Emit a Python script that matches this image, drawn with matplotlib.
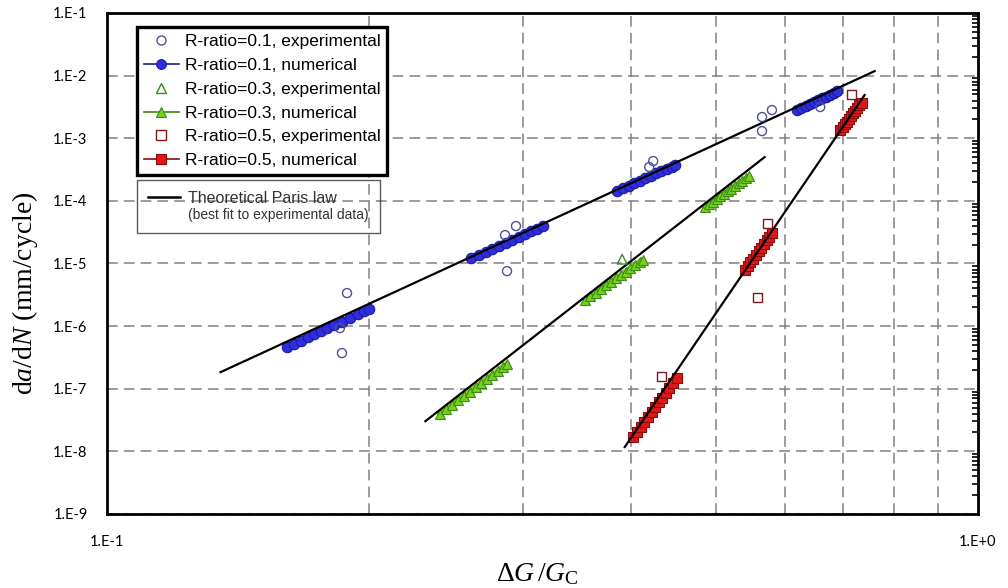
import numpy as np
import matplotlib
matplotlib.use("Agg")
import matplotlib.pyplot as plt
from matplotlib.lines import Line2D
from matplotlib.ticker import FixedLocator, FixedFormatter, NullFormatter

plt.rcParams['mathtext.fontset'] = 'custom'
plt.rcParams['mathtext.rm'] = 'Liberation Serif'
plt.rcParams['mathtext.it'] = 'Liberation Serif:italic'

# ---- data (dG/Gc, da/dN) ----
# R = 0.1 numerical, four blocks
r01_num_x = [
    [0.161, 0.164, 0.167, 0.170, 0.173, 0.176, 0.179, 0.182, 0.186, 0.190, 0.194, 0.197, 0.200],
    [0.262, 0.267, 0.272, 0.277, 0.282, 0.287, 0.292, 0.297, 0.302, 0.307, 0.312, 0.317],
    [0.385, 0.391, 0.397, 0.403, 0.409, 0.415, 0.421, 0.427, 0.433, 0.439, 0.445, 0.449],
    [0.620, 0.627, 0.634, 0.641, 0.648, 0.655, 0.662, 0.669, 0.676, 0.683, 0.689],
]
r01_num_y = [
    [4.62e-7, 5.21e-7, 5.86e-7, 6.58e-7, 7.37e-7, 8.25e-7, 9.20e-7, 1.025e-6, 1.18e-6, 1.356e-6, 1.55e-6, 1.72e-6, 1.89e-6],
    [1.22e-5, 1.37e-5, 1.54e-5, 1.72e-5, 1.92e-5, 2.15e-5, 2.39e-5, 2.65e-5, 2.94e-5, 3.26e-5, 3.60e-5, 3.97e-5],
    [1.44e-4, 1.585e-4, 1.742e-4, 1.91e-4, 2.095e-4, 2.293e-4, 2.506e-4, 2.736e-4, 2.983e-4, 3.25e-4, 3.53e-4, 3.74e-4],
    [2.82e-3, 3.03e-3, 3.26e-3, 3.50e-3, 3.76e-3, 4.03e-3, 4.32e-3, 4.62e-3, 4.95e-3, 5.29e-3, 5.60e-3],
]
r01_exp_x = [0.1886, 0.1851, 0.1861, 0.2864, 0.2948, 0.2879, 0.4193, 0.4237, 0.565, 0.580, 0.565, 0.659]
r01_exp_y = [3.37e-6, 9.29e-7, 3.71e-7, 2.84e-5, 3.96e-5, 7.56e-6, 3.47e-4, 4.32e-4, 2.18e-3, 2.82e-3, 1.30e-3, 3.15e-3]

# R = 0.3
r03_num_x = [
    [0.241, 0.245, 0.249, 0.253, 0.257, 0.261, 0.265, 0.269, 0.273, 0.277, 0.281, 0.285, 0.288],
    [0.354, 0.359, 0.364, 0.369, 0.374, 0.379, 0.384, 0.389, 0.394, 0.399, 0.404, 0.409, 0.412],
    [0.486, 0.491, 0.496, 0.501, 0.506, 0.511, 0.516, 0.521, 0.526, 0.531, 0.536, 0.541, 0.546],
]
r03_num_y = [
    [3.93e-8, 4.66e-8, 5.52e-8, 6.51e-8, 7.67e-8, 9.01e-8, 1.055e-7, 1.232e-7, 1.438e-7, 1.672e-7, 1.94e-7, 2.25e-7, 2.51e-7],
    [2.60e-6, 2.98e-6, 3.42e-6, 3.90e-6, 4.46e-6, 5.07e-6, 5.77e-6, 6.55e-6, 7.43e-6, 8.40e-6, 9.49e-6, 1.07e-5, 1.15e-5],
    [7.96e-5, 8.80e-5, 9.72e-5, 1.072e-4, 1.182e-4, 1.301e-4, 1.432e-4, 1.574e-4, 1.728e-4, 1.896e-4, 2.078e-4, 2.276e-4, 2.49e-4],
]
r03_exp_x = [0.3903]
r03_exp_y = [1.17e-5]

# R = 0.5
r05_num_x = [
    [0.402, 0.406, 0.410, 0.414, 0.418, 0.422, 0.426, 0.430, 0.434, 0.438, 0.442, 0.446, 0.451],
    [0.540, 0.544, 0.548, 0.552, 0.556, 0.560, 0.564, 0.568, 0.572, 0.576, 0.580],
    [0.695, 0.699, 0.703, 0.707, 0.711, 0.715, 0.719, 0.723, 0.727, 0.731, 0.735],
]
r05_num_y = [
    [1.69e-8, 2.04e-8, 2.46e-8, 2.96e-8, 3.55e-8, 4.25e-8, 5.09e-8, 6.07e-8, 7.24e-8, 8.62e-8, 1.025e-7, 1.217e-7, 1.50e-7],
    [7.85e-6, 9.03e-6, 1.038e-5, 1.192e-5, 1.367e-5, 1.567e-5, 1.793e-5, 2.05e-5, 2.344e-5, 2.676e-5, 3.05e-5],
    [1.35e-3, 1.497e-3, 1.659e-3, 1.837e-3, 2.033e-3, 2.25e-3, 2.487e-3, 2.749e-3, 3.035e-3, 3.35e-3, 3.70e-3],
]
r05_exp_x = [0.4337, 0.559, 0.574, 0.7166]
r05_exp_y = [1.59e-7, 2.90e-6, 4.42e-5, 5.08e-3]

# Paris law fits (end points)
paris01_x = [0.135, 0.761]
paris01_y = [1.84e-7, 1.18e-2]
paris03_x = [0.232, 0.569]
paris03_y = [3.03e-8, 5.0e-4]
paris05_x = [0.393, 0.741]
paris05_y = [1.17e-8, 4.9e-3]

y_ticks = [1e-9, 1e-8, 1e-7, 1e-6, 1e-5, 1e-4, 1e-3, 1e-2, 1e-1]
y_labels = ['1.E-9', '1.E-8', '1.E-7', '1.E-6', '1.E-5', '1.E-4', '1.E-3', '1.E-2', '1.E-1']
x_ticks = [0.1, 1.0]
x_labels = ['1.E-1', '1.E+0']

# ---- styles ----
blue_face, blue_edge = '#2e2ee0', '#1a1a9a'
green_face, green_edge = '#74d21c', '#3c8a14'
red_face, red_edge = '#e01818', '#8a0a0a'

fig = plt.figure(figsize=(10.08, 5.88), dpi=100)
ax = fig.add_axes([0.1062, 0.1259, 0.864, 0.852])
ax.set_xscale('log')
ax.set_yscale('log')
ax.set_xlim(0.1, 1.0)
ax.set_ylim(1e-9, 1e-1)

num_styles = [
    (r01_num_x, r01_num_y, 'o', blue_face, blue_edge, 'R-ratio=0.1, numerical'),
    (r03_num_x, r03_num_y, '^', green_face, green_edge, 'R-ratio=0.3, numerical'),
    (r05_num_x, r05_num_y, 's', red_face, red_edge, 'R-ratio=0.5, numerical'),
]
num_handles = []
for xs, ys, mk, fc, ec, lab in num_styles:
    for bx, by in zip(xs, ys):
        ax.plot(bx, by, marker=mk, ms=7.5, mfc=fc, mec=ec, mew=0.8,
                color=fc, lw=4, solid_capstyle='round', zorder=3)
    num_handles.append(Line2D([], [], marker=mk, ms=7, mfc=fc, mec=ec,
                              mew=0.8, color=ec, lw=1.2, label=lab))

for px, py in [(paris01_x, paris01_y), (paris03_x, paris03_y), (paris05_x, paris05_y)]:
    ax.plot(px, py, color='black', lw=1.6, zorder=4)

ax.scatter(r01_exp_x, r01_exp_y, s=42, marker='o', facecolors='none',
           edgecolors='#4f4f9e', linewidths=1.0, zorder=5)
ax.scatter(r03_exp_x, r03_exp_y, s=48, marker='^', facecolors='none',
           edgecolors='#3c8a2c', linewidths=1.0, zorder=5)
ax.scatter(r05_exp_x, r05_exp_y, s=42, marker='s', facecolors='none',
           edgecolors='#7a1a1a', linewidths=1.0, zorder=5)

exp_handles = [
    Line2D([], [], ls='none', marker='o', ms=6.5, mfc='none', mec='#4f4f9e', label='R-ratio=0.1, experimental'),
    Line2D([], [], ls='none', marker='^', ms=6.5, mfc='none', mec='#3c8a2c', label='R-ratio=0.3, experimental'),
    Line2D([], [], ls='none', marker='s', ms=6.5, mfc='none', mec='#7a1a1a', label='R-ratio=0.5, experimental'),
]
handles = [exp_handles[0], num_handles[0], exp_handles[1], num_handles[1],
           exp_handles[2], num_handles[2]]

# ---- axes cosmetics ----
ax.yaxis.set_major_locator(FixedLocator(y_ticks))
ax.yaxis.set_major_formatter(FixedFormatter(y_labels))
ax.yaxis.set_minor_formatter(NullFormatter())
ax.xaxis.set_major_locator(FixedLocator(x_ticks))
ax.xaxis.set_major_formatter(FixedFormatter(x_labels))
ax.xaxis.set_minor_locator(FixedLocator([0.2, 0.3, 0.4, 0.5, 0.6, 0.7, 0.8, 0.9]))
ax.xaxis.set_minor_formatter(NullFormatter())

ax.grid(True, which='major', axis='y', color='#808080', lw=1.1, ls=(0, (7, 4)))
ax.grid(True, which='minor', axis='x', color='#808080', lw=1.1, ls=(0, (7, 4)))
ax.tick_params(axis='y', which='major', length=0, pad=14, labelsize=10.5)
ax.tick_params(axis='y', which='minor', direction='in', right=True, left=False, length=4, width=1.2)
ax.tick_params(axis='x', which='major', length=0, pad=15, labelsize=10.5)
ax.tick_params(axis='x', which='minor', length=0)
for lbl in ax.get_xticklabels() + ax.get_yticklabels():
    lbl.set_fontfamily('Lato')
for sp in ax.spines.values():
    sp.set_linewidth(2.0)
    sp.set_zorder(6)

leg1 = ax.legend(handles=handles, loc='upper left', bbox_to_anchor=(0.0344, 0.972),
                 borderaxespad=0, fancybox=False, framealpha=1, edgecolor='black',
                 prop={'family': 'Liberation Sans', 'size': 12.5}, handlelength=2.0,
                 handletextpad=0.35, labelspacing=0.5, borderpad=0.4)
leg1.get_frame().set_linewidth(2.4)
leg1.set_zorder(7)
ax.add_artist(leg1)

paris_handle = Line2D([], [], color='black', lw=1.8)
blank_handle = Line2D([], [], color='none')
leg2 = ax.legend([paris_handle, blank_handle],
                 ['Theoretical Paris law', '(best fit to experimental data)'],
                 loc='upper left', bbox_to_anchor=(0.0344, 0.667), borderaxespad=0,
                 fancybox=False, facecolor='none', edgecolor='#333333',
                 prop={'family': 'Liberation Sans', 'size': 11.5}, handlelength=2.0,
                 handletextpad=0.5, labelspacing=0.1, borderpad=0.7)
leg2.get_frame().set_linewidth(1.0)
leg2.get_texts()[0].set_color('#333333')
leg2.get_texts()[1].set_fontsize(10)
leg2.get_texts()[1].set_color('#333333')
leg2.set_zorder(7)

fig.text(25 / 1008, 1 - 293 / 588, r'd$a$/d$N$ (mm/cycle)', rotation=90,
         ha='center', va='center', fontsize=20, family='Liberation Serif')
fig.text(537 / 1008, 1 - 574 / 588, r'$\Delta G\,/G_{\mathrm{C}}$', ha='center',
         va='center', fontsize=20, family='Liberation Serif')

fig.savefig('out.png', dpi=100)
